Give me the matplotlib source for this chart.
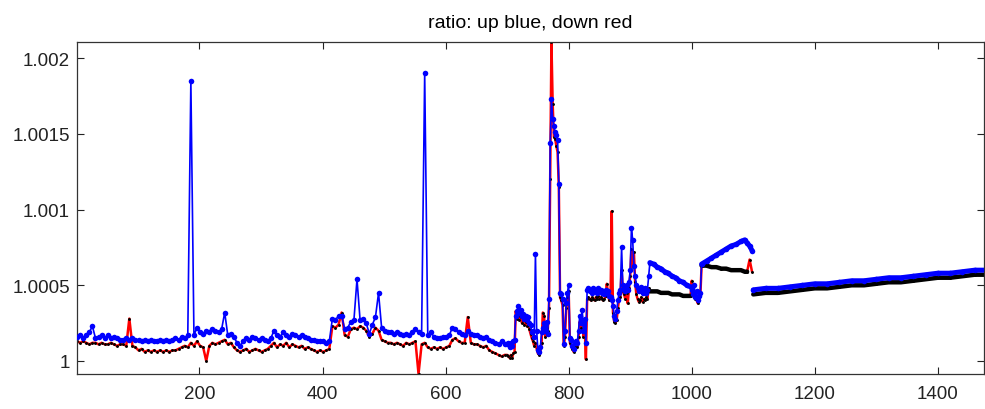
import numpy as np
import matplotlib
matplotlib.use("Agg")
import matplotlib.pyplot as plt

plt.rcParams['font.family'] = ['Liberation Sans', 'DejaVu Sans']

# values are (ratio - 1) in units of 1e-5
x_calm = np.arange(1, 700, 5)
up_calm = [16, 17, 15, 17, 19, 23, 15, 16, 17, 15,
           17, 15, 16, 15, 14, 14, 15, 14, 15, 14,
           14, 13, 14, 13, 14, 13, 13, 14, 13, 14,
           13, 14, 15, 14, 16, 15, 17, 185, 17, 22,
           19, 18, 20, 19, 21, 20, 19, 21, 32, 17,
           18, 16, 12, 10, 13, 15, 14, 16, 15, 14,
           15, 14, 13, 15, 20, 17, 16, 19, 17, 16,
           18, 17, 16, 17, 16, 15, 14, 14, 13, 13,
           13, 12, 13, 28, 27, 30, 30, 21, 22, 26,
           27, 54, 27, 28, 25, 18, 24, 29, 45, 22,
           20, 19, 19, 18, 19, 18, 17, 18, 17, 19,
           21, 19, 18, 190, 17, 19, 16, 15, 15, 16,
           16, 17, 22, 21, 19, 18, 17, 20, 18, 17,
           17, 16, 15, 16, 14, 13, 12, 11, 13, 11]
down_calm = [13, 12, 13, 12, 11, 12, 12, 11, 12, 11,
             11, 12, 11, 10, 11, 11, 10, 28, 10, 9,
             7, 8, 6, 7, 6, 7, 6, 7, 6, 7,
             6, 7, 7, 8, 9, 10, 9, 12, 10, 13,
             10, 9, 0, 10, 12, 11, 12, 13, 14, 11,
             12, 9, 7, 6, 7, 8, 6, 7, 8, 7,
             6, 7, 8, 10, 12, 9, 11, 10, 12, 9,
             11, 10, 9, 10, 8, 9, 8, 7, 6, 7,
             6, 7, 8, 23, 22, 24, 32, 17, 16, 21,
             22, 21, 23, 22, 20, 16, 18, 22, 20, 14,
             13, 12, 12, 11, 12, 11, 10, 12, 11, 12,
             13, -8.6, 11, 12, 9, 8, 9, 8, 9, 8,
             9, 10, 14, 15, 13, 12, 12, 29, 12, 11,
             11, 10, 9, 10, 7, 6, 5, 4, 3, 4]

x_busy = np.arange(700, 931, 2)
up_busy = [11, 12, 9, 12, 10, 13, 14,
           30, 33, 36, 32, 34, 30, 31, 28, 30, 27, 29, 25, 24, 19, 20, 16,
           71, 20, 7, 6, 9, 19, 22, 25, 20, 26, 18, 41,
           144, 173, 160, 155, 151, 149, 146, 117,
           45, 44, 41, 11, 20, 38, 45, 50,
           15, 14, 10, 8, 12, 13, 12, 20, 30, 25, 34, 20, 28, 12, 47,
           48, 46, 47, 45, 48, 46, 47, 45, 48, 46, 47, 45, 46, 44, 47, 45, 46, 43,
           42, 40, 36, 30, 28, 33, 40, 45, 47, 75,
           50, 48, 46, 50, 47, 52, 60, 88, 80, 63,
           56, 50, 48, 46, 47, 49, 45, 46, 48, 45,
           47, 56]
down_busy = [4, 3, 2, 4, 2, 5, 6,
             33, 28, 30, 27, 29, 25, 27, 24, 26, 23, 25, 21, 18, 15, 13, 10,
             12, 8, 5, 4, 6, 12, 32, 30, 16, 22, 20, 35,
             120, 210.8, 170, 148, 147, 142, 138, 115,
             42, 40, 37, 10, 16, 35, 42, 46,
             12, 10, 8, 6, 9, 11, 9, 16, 26, 22, 28, 16, 22, 1, 41,
             42, 41, 40, 42, 41, 40, 42, 41, 43, 41, 42, 41, 40, 41, 43, 51, 44, 40,
             40, 99, 32, 26, 25, 27, 35, 41, 42, 60,
             46, 44, 41, 45, 38, 48, 56, 74, 62, 72,
             52, 44, 41, 39, 40, 42, 39, 41, 40, 42,
             41, 48]

x_fall = [932, 938, 944, 950, 956, 962, 968, 974, 980, 986, 992, 998]
up_fall = [65, 64, 62, 61, 59, 58, 56, 55, 53, 52, 50, 49]
down_fall = [46, 46, 46, 45, 45, 45, 44, 44, 44, 43, 43, 43]

x_knot = [1000, 1002, 1004, 1006, 1008, 1010, 1012, 1014]
up_knot = [47, 44, 50, 42, 46, 40, 43, 45]
down_knot = [53, 46, 44, 41, 40, 38, 42, 43]

x_rise = [1016, 1024, 1032, 1040, 1048, 1056, 1064, 1072, 1080, 1086, 1090, 1094, 1098]
up_rise = [64, 66, 68, 70, 72, 74, 76, 77, 79, 80, 78, 76, 73]
down_rise = [63, 63, 62, 62, 61, 61, 60, 60, 60, 59, 59, 67, 59]

x_tail = np.arange(1100, 1481, 20)
up_tail = [47, 48, 48, 49, 50, 51, 51, 52, 53, 53, 54, 55, 55, 56, 57, 58, 58, 59, 60, 60]
down_tail = [44, 45, 45, 46, 47, 48, 48, 49, 50, 50, 51, 52, 52, 53, 54, 55, 55, 56, 57, 57]

ytick_vals = [1, 1.0005, 1.001, 1.0015, 1.002]
ytick_labels = ['1', '1.0005', '1.001', '1.0015', '1.002']
xtick_vals = [200, 400, 600, 800, 1000, 1200, 1400]


def ratio(v):
    return 1 + np.asarray(v, dtype=float) * 1e-5


x_main = np.concatenate([x_calm, x_busy, x_fall, x_knot, x_rise])
up_main = ratio(up_calm + up_busy + up_fall + up_knot + up_rise)
down_main = ratio(down_calm + down_busy + down_fall + down_knot + down_rise)

fig = plt.figure(figsize=(9.85, 4.10), dpi=100)
ax = fig.add_axes([0.0782, 0.0854, 0.9208, 0.8098])

for xs, up, down in [(x_main, up_main, down_main), (x_tail, ratio(up_tail), ratio(down_tail))]:
    ax.plot(xs, down, '-', color='red', lw=1.8, zorder=2)
    ax.plot(xs, down, 'o', color='black', ms=2.1, mew=0, zorder=2.1)
    ax.plot(xs, up, '-', color='blue', lw=1.2, marker='o', ms=4.0, mew=0, zorder=3)

# dense stretches look like solid bands
bands = [(x_fall, up_fall, x_fall, down_fall),
         (x_rise, up_rise, x_rise[:-2], down_rise[:-2]),
         (x_tail, up_tail, x_tail, down_tail)]
for xu, up, xd, down in bands:
    ax.plot(xd, ratio(down), '-', color='black', lw=3.2, solid_capstyle='round', zorder=2.2)
    ax.plot(xu, ratio(up), '-', color='blue', lw=3.6, solid_capstyle='round', zorder=3.1)

ax.set_xlim(1, 1475)
ax.set_ylim(0.999914, 1.002108)
ax.set_xticks(xtick_vals)
ax.set_yticks(ytick_vals)
ax.set_yticklabels(ytick_labels)
ax.tick_params(direction='in', top=True, right=True, length=5, width=0.8,
               labelsize=13.5, colors='#222222', pad=5)
ax.tick_params(axis='x', pad=8)
for s in ax.spines.values():
    s.set_color('#333333')
    s.set_linewidth(0.9)

ax.set_title('ratio: up blue, down red', fontsize=14, pad=11)

fig.savefig('out.png', dpi=100)
